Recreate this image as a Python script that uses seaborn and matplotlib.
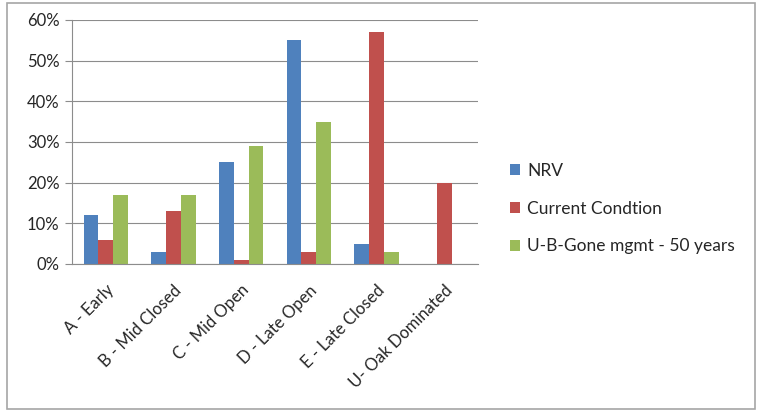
import matplotlib
matplotlib.use("Agg")
import matplotlib.pyplot as plt
import seaborn as sns
import pandas as pd
from matplotlib.patches import Rectangle, Patch
from matplotlib.ticker import PercentFormatter

categories = ["A - Early", "B - Mid Closed", "C - Mid Open", "D - Late Open",
              "E - Late Closed", "U- Oak Dominated"]
series_names = ["NRV", "Current Condtion", "U-B-Gone mgmt - 50 years"]
nrv = [12, 3, 25, 55, 5, 0]
current = [6, 13, 1, 3, 57, 20]
ubgone = [17, 17, 29, 35, 3, 0]
colors = ["#4F81BD", "#C0504D", "#9BBB59"]

rows = []
for name, vals in zip(series_names, [nrv, current, ubgone]):
    for c, v in zip(categories, vals):
        rows.append({"cat": c, "series": name, "val": v})
df = pd.DataFrame(rows)

sns.set_style("white")
plt.rcParams['font.family'] = ['Lato', 'DejaVu Sans']

fig = plt.figure(figsize=(7.58, 4.12), dpi=100)
ax = fig.add_axes([72/758, 1 - 264/412, (478-72)/758, (264-20)/412])

sns.barplot(data=df, x="cat", y="val", hue="series", palette=colors,
            width=0.66, gap=0, ax=ax, legend=False, saturation=1, linewidth=0)

ax.set_ylim(0, 60)
ax.set_xlim(-0.5, 5.5)
ax.set_yticks(range(0, 61, 10))
ax.yaxis.set_major_formatter(PercentFormatter(decimals=0))
ax.yaxis.grid(True, color="#8C8C8C", linewidth=0.8)
ax.set_axisbelow(True)
ax.set_xlabel("")
ax.set_ylabel("")
for s in ["top", "right"]:
    ax.spines[s].set_visible(False)
for s in ["left", "bottom"]:
    ax.spines[s].set_color("#8C8C8C")
    ax.spines[s].set_linewidth(0.8)

ax.set_xticks(range(len(categories)))
ax.set_xticklabels(categories, rotation=45, ha="right", rotation_mode="anchor",
                   fontsize=12)
ax.tick_params(axis="x", length=0, pad=13)
ax.set_xticks([i - 0.5 for i in range(len(categories) + 1)], minor=True)
ax.tick_params(axis="x", which="minor", length=5, color="#8C8C8C", width=0.8)
ax.tick_params(axis="y", length=5, color="#8C8C8C", width=0.8, labelsize=12,
               left=True, pad=4)

handles = [Patch(facecolor=c, edgecolor="none") for c in colors]
fig.legend(handles, series_names, loc="upper left",
           bbox_to_anchor=(503/758, 1 - 156/412), frameon=False, fontsize=12.5,
           handlelength=0.6, handleheight=0.6, handletextpad=0.4,
           labelspacing=1.25, borderaxespad=0)

fig.patches.append(Rectangle((7/758, 3/412), 748/758, 406/412,
                             transform=fig.transFigure, fill=False,
                             edgecolor="#A6A6A6", linewidth=1.2))

fig.savefig("out.png", dpi=100)
